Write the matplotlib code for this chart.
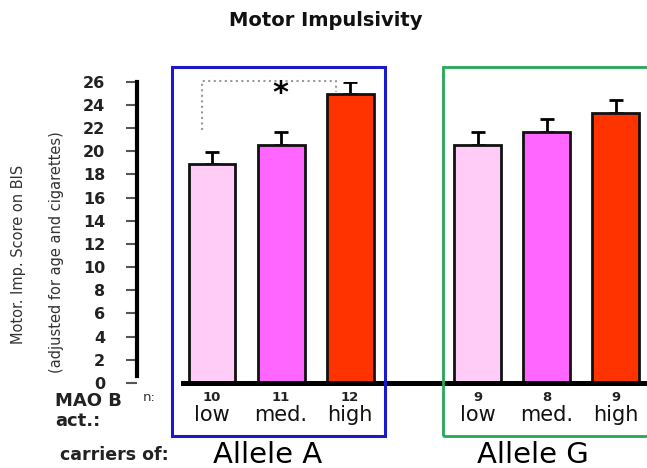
import numpy as np
import matplotlib
matplotlib.use('Agg')
import matplotlib.pyplot as plt
import matplotlib.patches as patches
import matplotlib.transforms as mtransforms

# Datos
alleles = ['Allele A', 'Allele G']
activity = ['low', 'med.', 'high']
scores_A = [18.9, 20.5, 24.9]
errors_A = [1.0, 1.2, 1.1]
scores_G = [20.5, 21.7, 23.3]
errors_G = [1.2, 1.1, 1.1]
n_A = [10, 11, 12]
n_G = [9, 8, 9]
yticks = list(range(0, 27, 2))

bar_colors = ['#ffccf7', '#ff66ff', '#ff3300']
group_gap = 1.85

fig = plt.figure(figsize=(6.47, 4.68), dpi=100)
ax = fig.add_axes([0.2117, 0.1816, 0.7883, 0.6438])

pos_A = np.arange(len(scores_A))
pos_G = np.arange(len(scores_G)) + pos_A[-1] + group_gap

for pos, vals, errs in [(pos_A, scores_A, errors_A), (pos_G, scores_G, errors_G)]:
    ax.bar(pos, vals, width=0.68, color=bar_colors, edgecolor='#111111', linewidth=2, zorder=2)
    ax.errorbar(pos, vals, yerr=[np.zeros(len(errs)), errs], fmt='none', ecolor='black',
                elinewidth=2, capsize=5, capthick=2, zorder=1)

ax.set_xlim(-1.087, 6.30)
ax.set_ylim(0, 26)
ax.set_yticks(yticks)
ax.set_yticklabels([str(t) for t in yticks], fontsize=11.5, fontweight='bold', color='#222222')
ax.tick_params(axis='y', direction='out', length=8, width=1.5, color='#555555', pad=15)
ax.set_xticks([])

for s in ['top', 'right']:
    ax.spines[s].set_visible(False)
ax.spines['left'].set_linewidth(3)
ax.spines['left'].set_bounds(0.6, 26)
ax.spines['bottom'].set_linewidth(3.6)
ax.spines['bottom'].set_bounds(pos_A[0] - 0.42, 6.30)
ax.patch.set_alpha(0)

# Corchete de significancia
x_left = pos_A[0] - 0.14
x_right = pos_A[2] - 0.2
ax.plot([x_left, x_left, x_right, x_right], [21.8, 26.1, 26.1, 25.1], color='#999999',
        linestyle=':', linewidth=1.5, clip_on=False)
ax.text(pos_A[1] - 0.01, 25.0, '*', ha='center', va='center', fontsize=22, fontweight='bold')

# Cajas de los alelos
fig.patches.append(patches.Rectangle((0.2658, 0.0684), 0.3293, 0.7884, transform=fig.transFigure,
                                     fill=False, edgecolor='#1a1acc', linewidth=2.2, zorder=5))
fig.patches.append(patches.Rectangle((0.6847, 0.0684), 0.4, 0.7884, transform=fig.transFigure,
                                     fill=False, edgecolor='#22aa55', linewidth=2.0, zorder=5))

# Etiquetas debajo de las barras
trans = mtransforms.blended_transform_factory(ax.transData, fig.transFigure)
for pos, ns in [(pos_A, n_A), (pos_G, n_G)]:
    for p, n, lab in zip(pos, ns, activity):
        ax.text(p, 0.150, str(n), transform=trans, ha='center', va='center', fontsize=9.5,
                fontweight='bold', color='#222222')
        ax.text(p, 0.113, lab, transform=trans, ha='center', va='center', fontsize=15,
                color='#111111')
for pos, name in zip([pos_A, pos_G], alleles):
    ax.text(pos[1] - 0.2, 0.028, name, transform=trans, ha='center', va='center', fontsize=21)

fig.text(0.085, 0.143, 'MAO B', ha='left', va='center', fontsize=13, fontweight='bold', color='#222222')
fig.text(0.085, 0.101, 'act.:', ha='left', va='center', fontsize=13, fontweight='bold', color='#222222')
fig.text(0.221, 0.150, 'n:', ha='left', va='center', fontsize=9.5, color='#333333')
fig.text(0.093, 0.028, 'carriers of:', ha='left', va='center', fontsize=12.5, fontweight='bold',
         color='#222222')

fig.text(0.029, 0.457, 'Motor. Imp. Score on BIS', rotation=90, ha='center', va='center',
         fontsize=10.5, color='#333333')
fig.text(0.088, 0.4615, '(adjusted for age and cigarettes)', rotation=90, ha='center',
         va='center', fontsize=10.5, color='#333333')

fig.text(0.504, 0.957, 'Motor Impulsivity', ha='center', va='center', fontsize=14,
         fontweight='bold', color='#111111')

fig.savefig('out.png', dpi=100)
